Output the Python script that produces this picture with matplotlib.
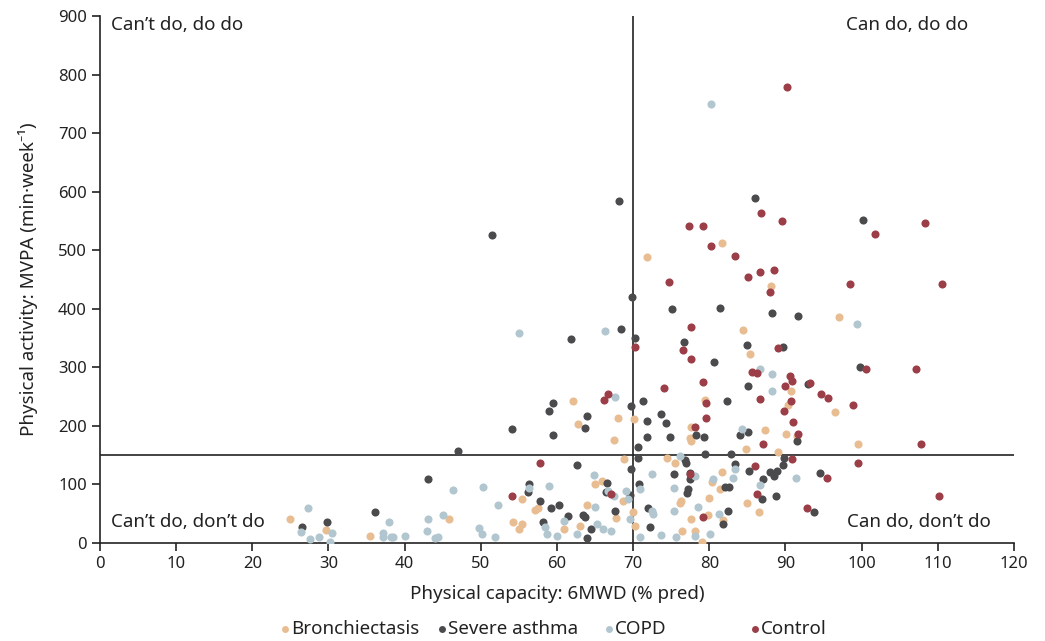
import matplotlib
matplotlib.use("Agg")
import matplotlib.pyplot as plt
from matplotlib.lines import Line2D

plt.rcParams['font.family'] = ['Noto Sans', 'DejaVu Sans']

# values (6MWD % pred, MVPA min/week)
bronch_x = [71.8, 81.7, 88.1, 84.4, 85.3, 97.0, 90.7, 79.4, 90.3, 96.5, 62.1, 68.0, 70.1, 62.8,
            91.5, 90.1, 87.3, 84.8, 77.6, 77.5, 77.6, 67.5, 68.8, 74.4, 75.5, 99.5, 89.0, 81.7,
            80.3, 81.4, 86.5, 84.9, 80.0, 77.6, 79.8, 81.8, 79.0, 78.1, 76.4, 70.2, 70.0, 76.1,
            76.3, 68.7, 65.0, 65.9, 63.9, 67.7, 63.0, 55.4, 57.1, 57.5, 55.4, 54.2, 55.0, 60.9,
            45.8, 35.4, 24.9, 29.7]
bronch_y = [488, 512, 439, 364, 323, 386, 260, 244, 236, 224, 242, 213, 211, 203,
            182, 186, 193, 161, 198, 179, 174, 176, 143, 145, 137, 169, 155, 121,
            104, 92, 53, 68, 77, 41, 48, 39, 2, 20, 20, 29, 53, 68,
            72, 72, 101, 106, 65, 43, 29, 75, 56, 60, 32, 36, 24, 24,
            41, 12, 41, 22]

asthma_x = [68.1, 51.5, 86.0, 100.2, 81.4, 69.8, 75.1, 88.2, 91.6, 68.4, 61.8, 70.2, 76.7, 84.9,
            89.7, 80.6, 99.8, 93.0, 85.1, 82.3, 59.5, 58.9, 71.3, 69.7, 63.9, 73.7, 71.8, 74.3,
            59.5, 63.7, 54.1, 47.0, 84.0, 85.1, 78.3, 79.3, 74.8, 71.8, 70.6, 91.5, 79.4, 82.8,
            70.6, 76.8, 76.9, 83.4, 89.8, 89.7, 88.0, 88.9, 88.5, 85.2, 87.0, 94.5, 82.0, 82.6,
            86.9, 88.8, 93.7, 82.4, 81.8, 77.5, 77.5, 77.2, 77.1, 69.7, 70.8, 69.6, 62.6, 66.6,
            66.4, 67.6, 71.9, 72.2, 63.4, 63.7, 64.5, 63.9, 56.3, 56.2, 57.8, 59.2, 60.3, 61.4,
            58.2, 43.1, 36.1, 26.5, 29.8, 75.4]
asthma_y = [584, 526, 589, 552, 401, 420, 400, 393, 388, 365, 348, 350, 343, 338,
            335, 309, 301, 272, 268, 242, 239, 225, 242, 234, 217, 221, 209, 205,
            184, 196, 195, 157, 184, 190, 184, 181, 181, 181, 164, 174, 152, 152,
            145, 142, 137, 135, 145, 133, 121, 123, 114, 123, 109, 119, 96, 96,
            75, 80, 53, 55, 32, 120, 109, 92, 85, 126, 101, 82, 133, 102,
            87, 55, 60, 27, 48, 44, 24, 9, 101, 87, 72, 60, 65, 46,
            36, 109, 53, 27, 36, 118]

copd_x = [80.2, 55.0, 66.3, 99.4, 67.6, 86.6, 88.2, 88.2, 84.3, 76.1, 83.4, 83.1, 80.5, 86.6,
          91.4, 78.1, 72.5, 64.9, 70.9, 69.1, 69.3, 66.7, 67.5, 75.4, 78.5, 81.3, 80.1, 78.1,
          75.6, 73.7, 70.9, 69.6, 72.5, 72.6, 75.4, 65.0, 65.2, 66.1, 67.1, 56.3, 58.9, 58.4,
          60.9, 58.7, 60.0, 62.6, 46.3, 50.3, 52.3, 45.0, 43.1, 38.0, 42.9, 44.0, 44.4, 49.8,
          50.2, 51.9, 37.2, 37.2, 38.2, 38.5, 40.0, 27.3, 26.4, 30.5, 27.6, 28.8, 30.2]
copd_y = [750, 359, 362, 374, 249, 297, 289, 260, 195, 149, 126, 111, 109, 99,
          111, 114, 118, 116, 92, 89, 75, 89, 80, 94, 61, 50, 15, 12,
          10, 13, 10, 41, 55, 50, 55, 61, 32, 24, 20, 94, 97, 27,
          38, 15, 12, 15, 91, 96, 65, 48, 41, 36, 20, 9, 10, 26,
          15, 10, 17, 10, 10, 10, 12, 60, 19, 17, 7, 10, 2]

control_x = [90.2, 77.3, 79.2, 80.2, 74.7, 86.8, 89.5, 83.4, 85.1, 86.6, 88.5, 88.0, 98.5, 101.7,
             108.3, 110.5, 77.6, 70.2, 76.5, 77.6, 74.0, 66.7, 66.2, 89.0, 85.6, 86.3, 90.6, 90.8,
             93.2, 89.9, 100.6, 107.1, 79.2, 86.6, 79.6, 90.7, 94.7, 95.6, 98.9, 89.8, 79.6, 91.0,
             91.7, 87.0, 78.1, 107.8, 99.5, 90.9, 86.0, 95.5, 86.3, 110.1, 92.8, 79.2, 57.8, 54.1,
             67.1, 77.5]
control_y = [779, 541, 541, 507, 446, 563, 550, 490, 454, 463, 466, 429, 442, 528,
             546, 442, 369, 335, 329, 314, 265, 255, 244, 333, 292, 290, 285, 277,
             273, 268, 297, 297, 275, 246, 239, 242, 254, 248, 236, 225, 213, 207,
             186, 169, 198, 169, 137, 143, 131, 111, 84, 80, 60, 44, 137, 80,
             84, 118]

groups = ["Bronchiectasis", "Severe asthma", "COPD", "Control"]
colors = ["#E9BD92", "#4B4B4D", "#B2C6CF", "#9C3E48"]

W, H = 1045, 641
fig = plt.figure(figsize=(W / 100, H / 100), dpi=100)
ax = fig.add_axes([0.0957, 0.1529, 0.8746, 0.8221])

series = [(bronch_x, bronch_y), (asthma_x, asthma_y), (copd_x, copd_y), (control_x, control_y)]
for (xs, ys), c in zip(series, colors):
    ax.scatter(xs, ys, s=34, color=c, linewidths=0, zorder=3)

# cut-offs: 70% pred and 150 min/week
ax.axvline(70, color="#222222", lw=1.2, zorder=2)
ax.axhline(150, color="#222222", lw=1.2, zorder=2)

ax.set_xlim(0, 120)
ax.set_ylim(0, 900)
ax.set_xticks(range(0, 121, 10))
ax.set_yticks(range(0, 901, 100))
for s in ["top", "right"]:
    ax.spines[s].set_visible(False)
for s in ["left", "bottom"]:
    ax.spines[s].set_color("#222222")
    ax.spines[s].set_linewidth(1.2)
ax.tick_params(labelsize=12, length=6, width=1.2, color="#222222", labelcolor="#222222")

ax.set_xlabel("Physical capacity: 6MWD (% pred)", fontsize=13.5, color="#222222", labelpad=9)
ax.set_ylabel("Physical activity: MVPA (min\u00b7week\u207b\u00b9)", fontsize=13.5, color="#222222", labelpad=14)

tk = dict(fontsize=13.5, color="#222222")
ax.text(1.5, 885, "Can\u2019t do, do do", ha="left", va="center", **tk)
ax.text(114, 885, "Can do, do do", ha="right", va="center", **tk)
ax.text(1.5, 35, "Can\u2019t do, don\u2019t do", ha="left", va="center", **tk)
ax.text(117, 35, "Can do, don\u2019t do", ha="right", va="center", **tk)

# legend row below the axes, laid out by hand to match the uneven spacing
leg_px = [285, 442, 609, 755]
leg_y = 1 - 629 / H
for px, name, c in zip(leg_px, groups, colors):
    fig.add_artist(Line2D([px / W], [leg_y], marker="o", ls="", color=c, markersize=5,
                          markeredgewidth=0, transform=fig.transFigure))
    fig.text((px + 6) / W, leg_y, name, ha="left", va="center", **tk)

fig.savefig("out.png", dpi=100)
